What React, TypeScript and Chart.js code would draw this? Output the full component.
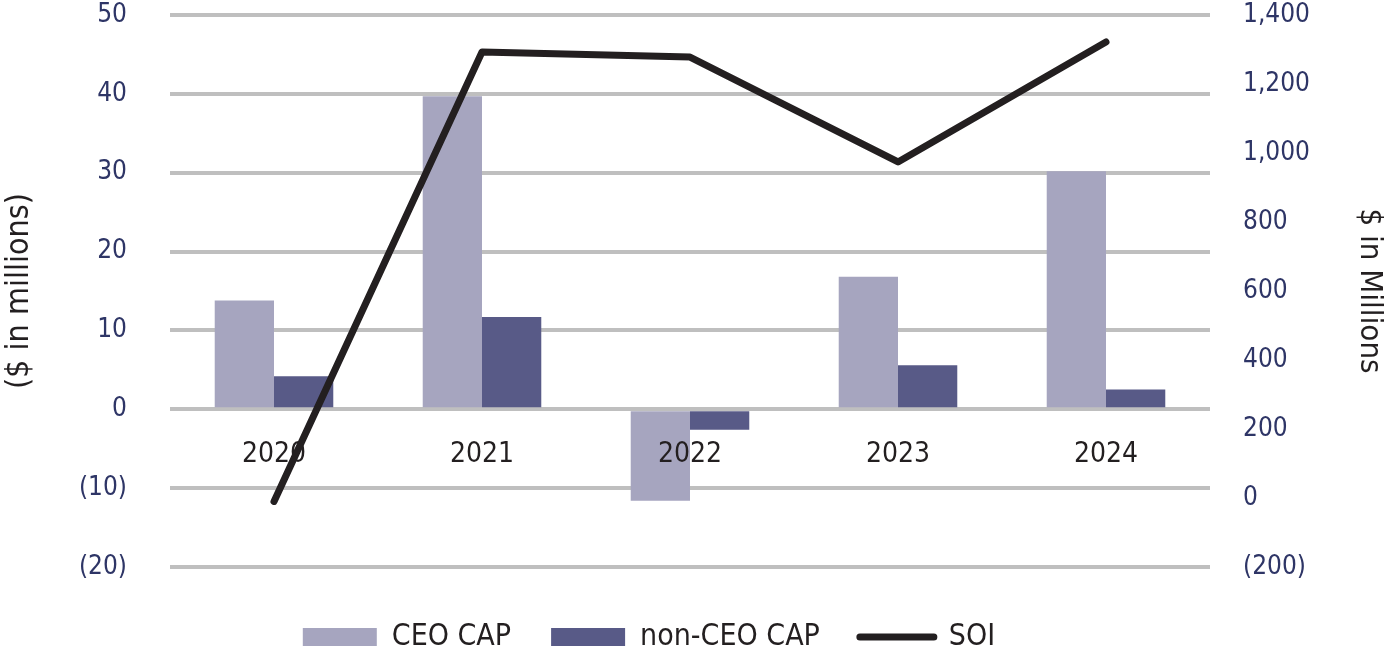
import React, { useEffect, useRef } from "react";
import { Chart, registerables } from "chart.js";

Chart.register(...registerables);

const categories = ["2020", "2021", "2022", "2023", "2024"];
const ceoCap = [13.8, 39.7, -11.6, 16.8, 30.2];
const nonCeoCap = [4.2, 11.7, -2.6, 5.6, 2.5];
const soi = [-10, 1293, 1278, 974, 1322];

const FONT = "'Liberation Sans Narrow', 'DejaVu Sans Condensed', 'Arial Narrow', sans-serif";

const fmtParen = (v: number, comma: boolean) => {
  const a = Math.abs(v);
  const s = comma ? a.toLocaleString("en-US") : String(a);
  return v < 0 ? `(${s})` : s;
};

// category labels drawn near the zero line, above the bars but under the SOI line
const categoryLabels = {
  id: "categoryLabels",
  beforeDatasetDraw(chart: any, args: any) {
    if (args.index !== 2) return;
    const x = chart.scales.x;
    const y = chart.scales.y;
    const ctx = chart.ctx;
    ctx.save();
    ctx.font = `28px ${FONT}`;
    ctx.fillStyle = "#231f20";
    ctx.textAlign = "center";
    ctx.textBaseline = "middle";
    const y0 = y.getPixelForValue(0) + 45;
    categories.forEach((c, i) => {
      ctx.fillText(c, x.getPixelForValue(i), y0);
    });
    ctx.restore();
  },
};

const legendShift = {
  id: "legendShift",
  afterLayout(chart: any) {
    const lg = chart.legend;
    if (!lg) return;
    lg.left -= 45;
    lg.right -= 45;
    lg.top += 7;
    lg.bottom += 7;
  },
};

export default function App() {
  const ref = useRef<HTMLCanvasElement>(null);
  useEffect(() => {
    if (!ref.current) return;
    const chart = new Chart(ref.current, {
      type: "bar",
      data: {
        labels: categories,
        datasets: [
          {
            type: "bar",
            label: "CEO CAP",
            data: ceoCap,
            backgroundColor: "#a6a5bf",
            yAxisID: "y",
            order: 1,
            barPercentage: 1,
            categoryPercentage: 0.57,
          },
          {
            type: "bar",
            label: "non-CEO CAP",
            data: nonCeoCap,
            backgroundColor: "#585a87",
            yAxisID: "y",
            order: 1,
            barPercentage: 1,
            categoryPercentage: 0.57,
          },
          {
            type: "line",
            label: "SOI",
            data: soi,
            borderColor: "#231f20",
            backgroundColor: "#231f20",
            borderWidth: 7,
            borderCapStyle: "round",
            borderJoinStyle: "round",
            pointRadius: 0,
            tension: 0,
            yAxisID: "y1",
            order: 0,
          } as any,
        ],
      },
      options: {
        animation: false,
        responsive: false,
        maintainAspectRatio: false,
        layout: { padding: 0 },
        plugins: {
          tooltip: { enabled: false },
          legend: {
            position: "bottom",
            labels: {
              usePointStyle: true,
              pointStyleWidth: 74,
              boxHeight: 18,
              padding: 40,
              color: "#231f20",
              font: { family: FONT, size: 30 },
              sort: (a: any, b: any) => a.datasetIndex - b.datasetIndex,
              generateLabels: (chart: any) => {
                const items = Chart.defaults.plugins.legend.labels.generateLabels(chart);
                return items.map((it: any) => {
                  if (it.datasetIndex === 2) {
                    return { ...it, pointStyle: "line", lineWidth: 7, strokeStyle: "#231f20", lineCap: "round" };
                  }
                  return { ...it, pointStyle: "rect", lineWidth: 0 };
                });
              },
            },
          },
        },
        scales: {
          x: {
            display: true,
            afterFit: (s: any) => {
              s.height = 8;
            },
            ticks: { display: false },
            grid: { display: false, drawTicks: false },
            border: { display: false },
          },
          y: {
            position: "left",
            min: -20,
            max: 50,
            afterFit: (s: any) => {
              s.width = 170;
              s.paddingTop = 15;
              s.paddingBottom = 0;
            },
            ticks: {
              stepSize: 10,
              padding: 43,
              color: "#2e3566",
              font: { family: FONT, size: 26 },
              callback: (v: any) => fmtParen(Number(v), false),
            },
            grid: { color: "#bfbfbf", lineWidth: 4, drawTicks: false },
            border: { display: false },
            title: {
              display: true,
              text: "($ in millions)",
              color: "#231f20",
              font: { family: FONT, size: 32 },
              padding: { top: 0, bottom: 0 },
            },
          },
          y1: {
            position: "right",
            min: -200,
            max: 1400,
            afterFit: (s: any) => {
              s.width = 178;
              s.paddingTop = 15;
              s.paddingBottom = 0;
            },
            ticks: {
              stepSize: 200,
              padding: 33,
              color: "#2e3566",
              font: { family: FONT, size: 26 },
              callback: (v: any) => fmtParen(Number(v), true),
            },
            grid: { display: false, drawTicks: false },
            border: { display: false },
            title: {
              display: true,
              text: "$ in Millions",
              color: "#231f20",
              font: { family: FONT, size: 31 },
              padding: { top: 0, bottom: 4 },
            },
          },
        },
      },
      plugins: [categoryLabels, legendShift],
    });
    return () => chart.destroy();
  }, []);
  return (
    <div style={{ position: "fixed", left: 0, top: 0, width: 1388, height: 655, background: "#fff" }}>
      <canvas ref={ref} width={1388} height={655} style={{ width: 1388, height: 655 }} />
    </div>
  );
}
